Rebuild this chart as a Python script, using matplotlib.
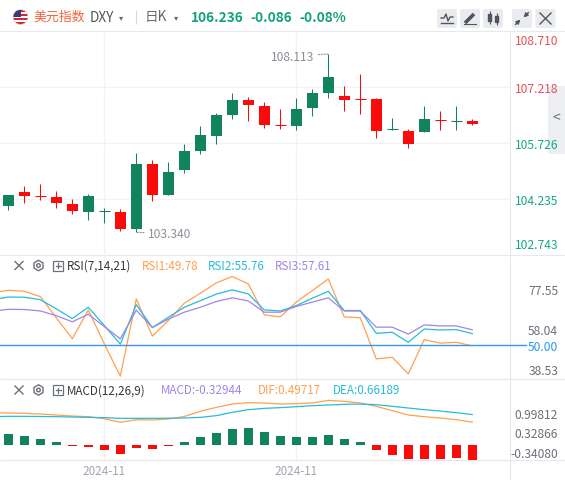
import matplotlib
matplotlib.use('Agg')
import matplotlib.pyplot as plt
from matplotlib.patches import Rectangle, FancyBboxPatch, RegularPolygon, Circle
from matplotlib.transforms import blended_transform_factory

plt.rcParams['font.family'] = ['Noto Sans CJK SC', 'DejaVu Sans']

W, H = 565, 481

# ---- 日K 数据 ----
opens = [104.052, 104.419, 104.330, 104.285, 104.097, 103.891, 103.905, 103.883, 103.428, 105.168,
         104.346, 105.008, 105.516, 105.918, 106.480, 106.882, 106.721, 106.210, 106.186, 106.667,
         107.077, 106.989, 106.905, 106.908, 106.090, 106.052, 106.033, 106.350, 106.315, 106.327]
highs = [104.345, 104.587, 104.633, 104.446, 104.231, 104.365, 103.990, 103.964, 105.463, 105.275,
         105.222, 105.704, 106.186, 106.534, 107.069, 106.962, 106.828, 106.641, 106.935, 107.176,
         108.113, 107.256, 107.586, 106.935, 106.400, 106.097, 106.721, 106.587, 106.721, 106.373]
lows = [103.945, 104.124, 104.205, 103.990, 103.830, 103.669, 103.597, 103.375, 103.340, 104.178,
        104.340, 104.927, 105.436, 105.704, 106.373, 106.319, 106.132, 106.105, 106.087, 106.453,
        106.935, 106.587, 106.507, 105.864, 106.090, 105.597, 106.033, 106.078, 106.087, 106.212]
closes = [104.338, 104.320, 104.320, 104.132, 103.910, 104.312, 103.915, 103.428, 105.168, 104.346,
          104.954, 105.516, 105.945, 106.480, 106.882, 106.748, 106.212, 106.200, 106.641, 107.069,
          107.497, 106.890, 106.900, 106.060, 106.097, 105.712, 106.373, 106.346, 106.319, 106.236]

# indicator lines start one bar before the window (index -1)
rsi1 = [75.6, 76.9, 76.4, 73.8, 63.5, 53.2, 67.3, 50.7, 35.0, 72.7, 54.5, 62.1, 70.6, 75.4, 80.5, 83.6,
        80.0, 64.9, 63.9, 71.1, 76.7, 82.4, 63.9, 63.5, 43.4, 44.2, 36.1, 52.8, 51.1, 51.5, 49.78]
rsi2 = [72.2, 73.6, 73.5, 72.3, 67.8, 63.1, 68.6, 59.7, 50.6, 69.9, 58.7, 63.7, 68.6, 71.8, 75.0, 77.1,
        75.1, 67.3, 66.8, 69.4, 73.0, 76.4, 67.0, 67.0, 55.9, 56.4, 51.5, 58.0, 57.5, 57.7, 55.76]
rsi3 = [66.7, 67.6, 67.5, 66.8, 64.5, 61.5, 65.2, 59.2, 53.2, 67.2, 58.7, 62.8, 66.2, 68.6, 71.4, 73.2,
        71.7, 66.2, 66.2, 69.0, 71.1, 73.2, 66.8, 66.8, 58.9, 58.9, 55.5, 60.0, 59.5, 59.5, 57.61]
dif = [0.696, 0.696, 0.688, 0.674, 0.652, 0.630, 0.616, 0.572, 0.493, 0.551, 0.543, 0.565, 0.620, 0.732,
       0.819, 0.891, 0.920, 0.913, 0.891, 0.899, 0.913, 0.971, 0.949, 0.913, 0.841, 0.746, 0.652, 0.616,
       0.587, 0.551, 0.49717]
dea = [0.616, 0.623, 0.623, 0.620, 0.616, 0.609, 0.601, 0.594, 0.580, 0.580, 0.580, 0.583, 0.587, 0.601,
       0.638, 0.710, 0.768, 0.797, 0.812, 0.833, 0.855, 0.870, 0.884, 0.891, 0.877, 0.841, 0.804, 0.768,
       0.739, 0.703, 0.66189]
macd_hist = [0.239, 0.196, 0.130, 0.065, -0.022, -0.043, -0.102, -0.196, -0.065, -0.087, -0.022, 0.065,
             0.174, 0.261, 0.348, 0.370, 0.283, 0.196, 0.174, 0.174, 0.217, 0.130, 0.065, -0.102, -0.217,
             -0.304, -0.304, -0.304, -0.289, -0.32944]

price_ticks = [108.710, 107.218, 105.726, 104.235, 102.743]
rsi_ticks = [77.55, 58.04, 50.00, 38.53]
macd_tick_labels = ['0.99812', '0.32866', '-0.34080']
macd_tick_pos = [0.689, 0.276, -0.146]   # the source prints these at even spacing, not at their values
date_pos = [6, 18]
date_labels = ['2024-11', '2024-11']
last_chg = -0.086

UP = '#11845c'
DOWN = '#fa0a0a'
C1 = '#ffa04f'
C2 = '#26bcd9'
C3 = '#a085e8'
GRID = '#f1f2f4'
LINE = '#e6e8eb'
AXTXT = '#6b707a'
TEAL = '#13a17d'
TSIZE = 8.7

fig = plt.figure(figsize=(W / 100, H / 100), dpi=100)


def px_axes(x0, y0, x1, y1, z=0):
    a = fig.add_axes([x0 / W, 1 - y1 / H, (x1 - x0) / W, (y1 - y0) / H])
    a.set_zorder(z)
    a.patch.set_visible(False)
    return a


def overlay(z):
    a = px_axes(0, 0, W, H, z=z)
    a.set_xlim(0, W)
    a.set_ylim(H, 0)
    a.axis('off')
    return a


bg = overlay(-1)   # frame, header, side tab (under the panes)
fg = overlay(5)    # indicator legend rows (over the grid)

ax_p = px_axes(0, 32, 510, 256)
ax_r = px_axes(0, 256, 510, 380)
ax_m = px_axes(0, 380, 510, 461)

n = len(closes)
idx = list(range(n))
idx_ext = list(range(-1, n))
PAD = 34.6

for a in (ax_p, ax_r, ax_m):
    a.set_xlim(-0.52, 31.36)
    for s in a.spines.values():
        s.set_visible(False)
    a.set_xticks(date_pos)
    a.grid(axis='x', color=GRID, lw=1)
    a.set_axisbelow(True)
    a.yaxis.tick_right()
    a.tick_params(axis='y', length=0, pad=PAD, labelsize=TSIZE, labelcolor=AXTXT)
    a.tick_params(axis='x', length=0)
ax_p.tick_params(labelbottom=False)
ax_r.tick_params(labelbottom=False)

# ---- K线 ----
for i in idx:
    o, h, l, c = opens[i], highs[i], lows[i], closes[i]
    col = UP if c >= o else DOWN
    ax_p.vlines(i, l, h, color=col, lw=0.75)
    if abs(c - o) < 0.03:
        ax_p.hlines(c, i - 0.33, i + 0.33, color=col, lw=0.75)
    else:
        ax_p.bar(i, abs(c - o), bottom=min(o, c), width=0.66, color=col, lw=0)

ax_p.set_ylim(102.73, 108.73)
ax_p.set_yticks(price_ticks[1:4])
ax_p.set_yticklabels([f'{v:.3f}' for v in price_ticks[1:4]])
ax_p.grid(axis='y', color=GRID, lw=1)
lab_red, lab_green = '#e5505c', '#17a68a'
for t, v in zip(ax_p.get_yticklabels(), price_ticks[1:4]):
    t.set_ha('right')
    t.set_color(lab_red if v > closes[-1] else lab_green)
tr = blended_transform_factory(ax_p.transAxes, ax_p.transData)
for v, dy in ((price_ticks[0], -6.5), (price_ticks[-1], 6.9)):
    ax_p.annotate(f'{v:.3f}', xy=(1, v), xycoords=tr, xytext=(PAD, dy), textcoords='offset points',
                  ha='right', va='center', fontsize=TSIZE, annotation_clip=False,
                  color=lab_red if v > closes[-1] else lab_green)

imax = highs.index(max(highs))
imin = lows.index(min(lows))
dots = dict(arrowstyle='-', linestyle=(0, (1, 1.5)), color='#8a8f99', lw=0.8, shrinkA=1, shrinkB=0)
ax_p.annotate(f'{highs[imax]:.3f}', xy=(imax, highs[imax]), xytext=(-10, -1.6), textcoords='offset points',
              ha='right', va='center', fontsize=TSIZE, color='#8a8f99', arrowprops=dots)
ax_p.annotate(f'{lows[imin]:.3f}', xy=(imin, lows[imin]), xytext=(8.5, -1.2), textcoords='offset points',
              ha='left', va='center', fontsize=TSIZE, color='#8a8f99', arrowprops=dots)

# ---- RSI ----
ax_r.plot(idx_ext, rsi1, color=C1, lw=0.9)
ax_r.plot(idx_ext, rsi2, color=C2, lw=0.9)
ax_r.plot(idx_ext, rsi3, color=C3, lw=0.9)
ax_r.axhline(50, xmax=1.031, color='#3a97f0', lw=1, clip_on=False)
ax_r.set_ylim(33.6, 94.1)
ax_r.set_yticks(rsi_ticks)
ax_r.set_yticklabels([f'{v:.2f}' for v in rsi_ticks])
for t, v in zip(ax_r.get_yticklabels(), rsi_ticks):
    t.set_ha('right')
    if v == 50:
        t.set_color('#2e93f0')

# ---- MACD ----
ax_m.bar(idx, macd_hist, width=0.58, color=[UP if v >= 0 else DOWN for v in macd_hist], lw=0)
ax_m.plot(idx_ext, dif, color=C1, lw=0.9)
ax_m.plot(idx_ext, dea, color=C2, lw=0.9)
ax_m.set_ylim(-0.326, 1.435)
ax_m.set_yticks(macd_tick_pos)
ax_m.set_yticklabels(macd_tick_labels)
for t in ax_m.get_yticklabels():
    t.set_ha('right')
ax_m.set_xticklabels(date_labels)
ax_m.tick_params(axis='x', labelsize=8.4, labelcolor='#a0a6b0', pad=3)

# ---- frame lines ----
bg.hlines([32, 256, 380, 461], 0, W, color=LINE, lw=0.8)
bg.vlines(510, 32, H, color=LINE, lw=0.8)

# ---- header ----
flag = Circle((20.5, 18), 7.5, transform=bg.transData)
for k in range(7):
    s = Rectangle((12, 10.5 + k * 15 / 7), 17, 15 / 7, color='#d22630' if k % 2 == 0 else 'white', lw=0)
    bg.add_patch(s)
    s.set_clip_path(flag)
cant = Rectangle((12, 10.5), 9, 7.5, color='#3c3b6e', lw=0)
bg.add_patch(cant)
cant.set_clip_path(flag)
bg.add_patch(Circle((20.5, 18), 7.5, fill=False, ec='#d8dbe0', lw=0.5))

bg.text(33, 17.5, '美元指数', fontsize=9.3, color='#f4623a', va='center')
bg.text(89.5, 17.5, 'DXY', fontsize=9.8, color='#50555f', va='center')
bg.text(121.5, 18, '▾', fontsize=6, color='#666a72', va='center', ha='center', family='DejaVu Sans')
bg.vlines(136, 11, 25, color='#d5d8dd', lw=0.8)
bg.text(145, 17.5, '日K', fontsize=9.8, color='#666a72', va='center')
bg.text(176.5, 18, '▾', fontsize=6, color='#666a72', va='center', ha='center', family='DejaVu Sans')
pct = last_chg / (closes[-1] - last_chg) * 100
bg.text(191, 17.5, f'{closes[-1]:.3f}', fontsize=9.8, color=TEAL, va='center', weight='bold')
bg.text(250, 17.5, f'{last_chg:.3f}', fontsize=9.8, color=TEAL, va='center', weight='bold')
bg.text(299, 17.5, f'{pct:.2f}%', fontsize=9.8, color=TEAL, va='center', weight='bold')

ic = '#50555f'
for x0 in (437, 460, 483, 512, 535.5):
    bg.add_patch(FancyBboxPatch((x0, 10), 20, 19, boxstyle='round,pad=0,rounding_size=2',
                                fc='#e9ebef', ec='none'))
bg.plot([441, 444, 446, 448, 450, 453], [19, 19, 15, 22, 18, 18], color=ic, lw=1)
bg.plot([441, 453], [24, 24], color=ic, lw=1)
bg.plot([465, 474], [24, 15], color=ic, lw=2.6, solid_capstyle='butt')
bg.plot([464, 476], [25, 25], color=ic, lw=0.8)
bg.vlines([489.5, 496.5], [12, 14], [25, 26], color=ic, lw=0.8)
bg.add_patch(Rectangle((488, 15), 3, 7, color=ic))
bg.add_patch(Rectangle((495, 17), 3, 6, color=ic))
arr = dict(arrowstyle='-|>', color=ic, lw=1, mutation_scale=6, shrinkA=0, shrinkB=0)
bg.annotate('', xy=(520.5, 20.5), xytext=(515.5, 25.5), arrowprops=arr)
bg.annotate('', xy=(523.5, 18.5), xytext=(528.5, 13.5), arrowprops=arr)
bg.plot([540, 551], [14, 25], color=ic, lw=1)
bg.plot([540, 551], [25, 14], color=ic, lw=1)

# right side collapse tab
bg.add_patch(FancyBboxPatch((548, 87), 20, 68, boxstyle='round,pad=0,rounding_size=3',
                            fc='#eceef1', ec='none'))
bg.text(556.5, 118, '<', fontsize=10, color='#6b707a', ha='center', va='center')


# ---- indicator legend rows ----
def legend_row(y, items):
    g = '#6b707a'
    fg.plot([15, 23], [y - 4, y + 4], color=g, lw=1)
    fg.plot([15, 23], [y + 4, y - 4], color=g, lw=1)
    fg.add_patch(RegularPolygon((38.5, y), 6, radius=5.2, orientation=0, fc='white', ec=g, lw=1))
    fg.add_patch(Circle((38.5, y), 1.8, fill=False, ec=g, lw=1))
    fg.add_patch(Rectangle((53, y - 5), 10, 10, fc='white', ec=g, lw=0.9))
    fg.plot([55.5, 60.5], [y, y], color=g, lw=0.9)
    fg.plot([58, 58], [y - 2.5, y + 2.5], color=g, lw=0.9)
    for x, s, c in items:
        fg.text(x, y, s, fontsize=8.4, color=c, va='center')


legend_row(266.5, [(67, 'RSI(7,14,21)', '#33373d'),
                   (142, f'RSI1:{rsi1[-1]:.2f}', C1),
                   (208, f'RSI2:{rsi2[-1]:.2f}', C2),
                   (275, f'RSI3:{rsi3[-1]:.2f}', C3)])
legend_row(391, [(67, 'MACD(12,26,9)', '#33373d'),
                 (161, f'MACD:{macd_hist[-1]:.5f}', C3),
                 (258, f'DIF:{dif[-1]:.5f}', C1),
                 (333, f'DEA:{dea[-1]:.5f}', C2)])

fig.savefig('out.png', dpi=100)
